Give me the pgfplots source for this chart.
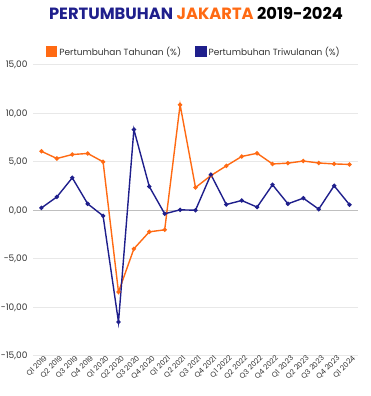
\documentclass[border=0pt]{standalone}
\usepackage{pgfplots}
\pgfplotsset{compat=1.18}
\usepackage{fontspec}
\setmainfont{Poppins}
\definecolor{orng}{HTML}{FF6A13}
\definecolor{navy}{HTML}{1F1F8C}
\definecolor{gridc}{HTML}{E8E8E8}
\definecolor{txt}{HTML}{333333}
\begin{document}
\begin{tikzpicture}[x=1pt,y=1pt]
\useasboundingbox (-33,-40) rectangle (337,356);
\begin{axis}[
  at={(0,0)}, anchor=south west,
  scale only axis, width=325pt, height=291pt,
  xmin=-0.55, xmax=20.55, ymin=-15, ymax=15,
  axis line style={draw=none},
  ytick={-15,-10,-5,0,5,10,15},
  ymajorgrids, grid style={gridc, line width=1pt},
  xtick={0,...,20},
  xticklabels={Q1 2019,Q2 2019,Q3 2019,Q4 2019,Q1 2020,Q2 2020,Q3 2020,Q4 2020,Q1 2021,Q2 2021,Q3 2021,Q4 2021,Q1 2022,Q2 2022,Q3 2022,Q4 2022,Q1 2023,Q2 2023,Q3 2023,Q4 2023,Q1 2024},
  xticklabel style={rotate=45, anchor=east, font=\fontsize{7.3}{8}\selectfont, text=txt, inner sep=0.5pt, xshift=3pt, yshift=-4pt},
  yticklabel style={font=\fontsize{9}{10}\selectfont, text=txt, xshift=-2pt},
  /pgf/number format/assume math mode=true,
  yticklabel={\pgfmathprintnumber[use comma, fixed, fixed zerofill, precision=2]{\tick}},
  major tick length=0pt,
  legend columns=2,
  legend style={at={(0.495,1.045)}, anchor=center, draw=none, fill=none,
    font=\fontsize{9}{10}\selectfont, text=txt,
    /tikz/every even column/.append style={column sep=12pt}},
  legend image code/.code={\fill[#1] (0pt,-4.5pt) rectangle (10pt,5.5pt);},
  clip=false,
]
\draw[color=black!25, line width=1pt] (axis cs:-0.55,0) -- (axis cs:20.55,0);
\addplot[orng, line width=1.4pt, mark=*, mark size=1.4pt, mark options={fill=orng}] coordinates {
(0,6.1)(1,5.36)(2,5.77)(3,5.88)(4,5.02)(5,-8.4)(6,-3.95)(7,-2.2)(8,-1.99)(9,10.9)
(10,2.37)(11,3.6)(12,4.6)(13,5.57)(14,5.9)(15,4.8)(16,4.88)(17,5.1)(18,4.9)(19,4.8)(20,4.75)};
\addlegendentry{Pertumbuhan Tahunan (\%)}
\addplot[navy, line width=1.4pt, mark=*, mark size=1.4pt, mark options={fill=navy}] coordinates {
(0,0.27)(1,1.4)(2,3.37)(3,0.69)(4,-0.55)(5,-11.5)(6,8.35)(7,2.47)(8,-0.34)(9,0.07)
(10,0.03)(11,3.7)(12,0.62)(13,1.03)(14,0.35)(15,2.65)(16,0.69)(17,1.27)(18,0.14)(19,2.55)(20,0.59)};
\addlegendentry{Pertumbuhan Triwulanan (\%)}
\end{axis}
\node[anchor=center, font=\fontsize{16.3}{18}\selectfont\bfseries] at (163,343)
  {\textcolor{navy}{PERTUMBUHAN} \textcolor{orng}{JAKARTA} \textcolor{black}{2019-2024}};
\end{tikzpicture}
\end{document}
